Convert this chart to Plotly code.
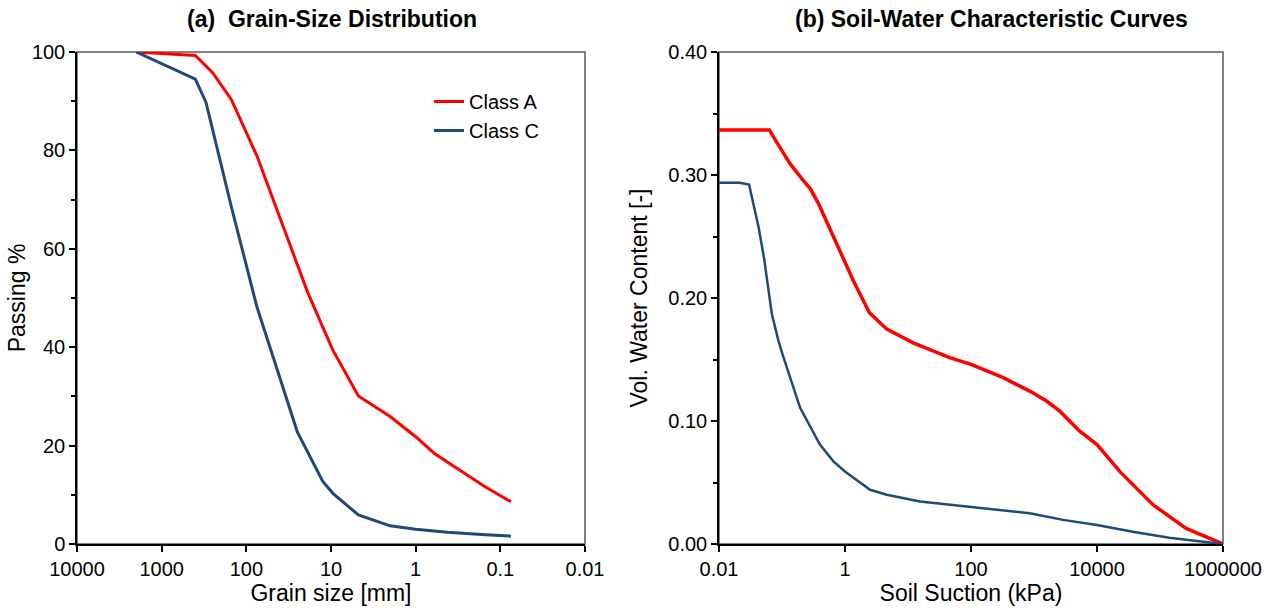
import plotly.graph_objects as go

# Grain-size distribution (sieve size in mm, percent passing)
size_a = [2000, 400, 250, 150, 75, 37.5, 19, 12.5, 9.5, 4.75, 2, 1, 0.6, 0.3, 0.15, 0.075]
pass_a = [100, 99.3, 95.8, 90.3, 78.9, 65.0, 51.3, 44.1, 39.4, 30.1, 25.9, 21.8, 18.4, 15.0, 11.6, 8.6]

size_c = [2000, 400, 300, 150, 75, 37.5, 25, 12.5, 9.5, 4.75, 2, 1, 0.42, 0.15, 0.075]
pass_c = [100, 94.5, 89.8, 68.5, 48.2, 32.2, 22.8, 12.7, 10.3, 5.9, 3.7, 3.0, 2.4, 1.9, 1.6]

# Soil-water characteristic curves (suction in kPa, volumetric water content)
suction_a = [0.01, 0.063, 0.088, 0.135, 0.206, 0.28, 0.38, 0.74, 1.36, 2.44, 4.6, 12.1, 46,
             100, 324, 857, 1580, 2570, 5320, 10000, 23000, 78000, 260000, 1000000]
theta_a = [0.3366, 0.3366, 0.3243, 0.309, 0.297, 0.289, 0.2767, 0.244, 0.214, 0.188, 0.1747,
           0.1635, 0.1515, 0.146, 0.1352, 0.1243, 0.1162, 0.108, 0.0917, 0.0808, 0.059,
           0.0318, 0.0127, 0.0]

suction_c = [0.01, 0.0212, 0.030, 0.0425, 0.052, 0.061, 0.069, 0.088, 0.106, 0.194, 0.40, 0.655,
             1.0, 2.5, 4.6, 15.5, 46, 100, 857, 2900, 10000, 37000, 140000, 1000000]
theta_c = [0.2936, 0.2936, 0.2922, 0.2576, 0.232, 0.2087, 0.187, 0.165, 0.1515, 0.1107, 0.0808,
           0.0672, 0.059, 0.0441, 0.040, 0.0345, 0.0318, 0.0304, 0.025, 0.0196, 0.0155,
           0.010, 0.0051, 0.0]

gsd_ticks = [10000, 1000, 100, 10, 1, 0.1, 0.01]
gsd_ticktext = ["10000", "1000", "100", "10", "1", "0.1", "0.01"]
swcc_ticks = [0.01, 1, 100, 10000, 1000000]
swcc_ticktext = ["0.01", "1", "100", "10000", "1000000"]

RED = "#FF0000"
NAVY = "#1F497D"
FONT = "Liberation Sans, Arial, sans-serif"
W, H = 1274, 611

fig = go.Figure()
fig.add_trace(go.Scatter(x=size_a, y=pass_a, mode="lines", name="Class A",
                         line=dict(color=RED, width=3), xaxis="x", yaxis="y"))
fig.add_trace(go.Scatter(x=size_c, y=pass_c, mode="lines", name="Class C",
                         line=dict(color=NAVY, width=3), xaxis="x", yaxis="y"))
fig.add_trace(go.Scatter(x=suction_a, y=theta_a, mode="lines", name="Class A",
                         line=dict(color=RED, width=3.5), xaxis="x2", yaxis="y2",
                         showlegend=False))
fig.add_trace(go.Scatter(x=suction_c, y=theta_c, mode="lines", name="Class C",
                         line=dict(color=NAVY, width=2.5), xaxis="x2", yaxis="y2",
                         showlegend=False))

tickfont = dict(family=FONT, size=20, color="#000000")
titlefont = dict(family=FONT, size=23, color="#000000")
common = dict(showgrid=False, zeroline=False, showline=True, linecolor="#000000",
              linewidth=1.5, ticks="outside", ticklen=6, tickwidth=1.5,
              tickcolor="#000000", tickfont=tickfont, automargin=False)

left_dom = [77 / W, 585 / W]
right_dom = [719 / W, 1223 / W]
y_dom = [1 - 544 / H, 1 - 52 / H]

fig.update_layout(
    width=W, height=H,
    margin=dict(l=0, r=0, t=0, b=0),
    paper_bgcolor="white", plot_bgcolor="white",
    font=dict(family=FONT, color="#000000"),
    xaxis=dict(**common, type="log", domain=left_dom, range=[4, -2],
               tickvals=gsd_ticks, ticktext=gsd_ticktext, anchor="y",
               title=dict(text="Grain size [mm]", font=titlefont, standoff=4)),
    yaxis=dict(**common, domain=y_dom, range=[0, 100], tickvals=[0, 20, 40, 60, 80, 100],
               minor=dict(dtick=10, ticks="outside", ticklen=4, tickwidth=1.5,
                          tickcolor="#000000"),
               anchor="x",
               title=dict(text="Passing %", font=titlefont, standoff=0)),
    xaxis2=dict(**common, type="log", domain=right_dom, range=[-2, 6],
                tickvals=swcc_ticks, ticktext=swcc_ticktext, anchor="y2",
                title=dict(text="Soil Suction (kPa)", font=titlefont, standoff=4)),
    yaxis2=dict(**common, domain=y_dom, range=[0, 0.4],
                tickvals=[0, 0.1, 0.2, 0.3, 0.4], tickformat=".2f",
                minor=dict(dtick=0.05, ticks="outside", ticklen=4, tickwidth=1.5,
                           tickcolor="#000000"),
                anchor="x2",
                title=dict(text="Vol. Water Content [-]", font=titlefont, standoff=14)),
    legend=dict(x=429 / W, y=1 - 82 / H, xanchor="left", yanchor="top",
                bgcolor="rgba(0,0,0,0)", borderwidth=0,
                font=dict(family=FONT, size=20, color="#000000"),
                tracegroupgap=4),
    showlegend=True,
    annotations=[
        dict(text="<b>(a)  Grain-Size Distribution</b>", x=332 / W, y=1 - 19 / H,
             xref="paper", yref="paper", xanchor="center", yanchor="middle",
             showarrow=False, font=dict(family=FONT, size=23, color="#000000")),
        dict(text="<b>(b) Soil-Water Characteristic Curves</b>", x=991 / W, y=1 - 19 / H,
             xref="paper", yref="paper", xanchor="center", yanchor="middle",
             showarrow=False, font=dict(family=FONT, size=23, color="#000000")),
    ],
    shapes=[
        dict(type="rect", xref="x domain", yref="y domain", x0=0, x1=1, y0=0, y1=1,
             line=dict(color="#595959", width=1.5), layer="below"),
        dict(type="rect", xref="x2 domain", yref="y2 domain", x0=0, x1=1, y0=0, y1=1,
             line=dict(color="#595959", width=1.5), layer="below"),
    ],
)

fig.write_html("out.html")
